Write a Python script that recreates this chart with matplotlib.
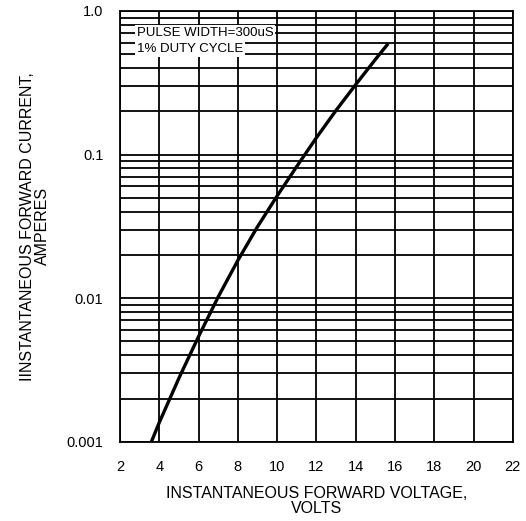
import numpy as np
import matplotlib.pyplot as plt
from matplotlib.ticker import LogLocator, NullFormatter

plt.rcParams['font.family'] = ['Liberation Sans', 'DejaVu Sans']

# Forward voltage (V) vs forward current (A)
volts = [3.6, 4.0, 5.0, 6.0, 7.0, 8.0, 9.0, 10.0, 11.0, 12.0, 13.0, 14.0, 15.0, 15.6]
amps = [0.001, 0.00136, 0.00277, 0.0054, 0.0102, 0.0183, 0.0314, 0.0515,
        0.0826, 0.131, 0.203, 0.307, 0.459, 0.58]

x_ticks = [2, 4, 6, 8, 10, 12, 14, 16, 18, 20, 22]
y_ticks = [0.001, 0.01, 0.1, 1.0]
y_labels = ['0.001', '0.01', '0.1', '1.0']

fig = plt.figure(figsize=(5.26, 5.21), dpi=100)
ax = fig.add_axes([0.228, 0.152, 0.747, 0.827])

ax.set_yscale('log')
ax.set_xlim(2, 22)
ax.set_ylim(0.001, 1.0)

ax.set_xticks(x_ticks)
ax.set_yticks(y_ticks)
ax.set_yticklabels(y_labels)
ax.yaxis.set_minor_locator(LogLocator(base=10, subs=np.arange(2, 10)))
ax.yaxis.set_minor_formatter(NullFormatter())

ax.grid(True, which='major', axis='both', color='black', lw=1.3)
ax.grid(True, which='minor', axis='y', color='black', lw=1.3)
ax.tick_params(which='both', length=0, labelsize=10.5, colors='black')
ax.tick_params(axis='x', pad=13)
ax.tick_params(axis='y', pad=12)
for sp in ax.spines.values():
    sp.set_linewidth(1.3)

ax.plot(volts, amps, color='black', lw=2.4, solid_joinstyle='round', zorder=5)

ax.text(2.85, 0.70, 'PULSE WIDTH=300uS', fontsize=9.5, va='center', ha='left',
        bbox=dict(facecolor='white', edgecolor='none', pad=1.5), zorder=6)
ax.text(2.85, 0.54, '1% DUTY CYCLE', fontsize=9.5, va='center', ha='left',
        bbox=dict(facecolor='white', edgecolor='none', pad=1.5), zorder=6)

ax.set_xlabel('INSTANTANEOUS FORWARD VOLTAGE,\nVOLTS', fontsize=11.5,
              labelpad=9, linespacing=1.0)
ax.set_ylabel('IINSTANTANEOUS FORWARD CURRENT,\nAMPERES', fontsize=11.5,
              labelpad=12, linespacing=1.0)

fig.savefig('out.png', dpi=100)
